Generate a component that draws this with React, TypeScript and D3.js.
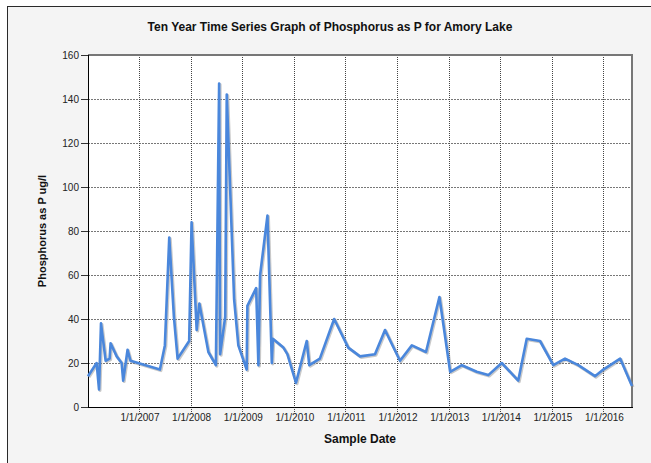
import { useEffect, useRef } from 'react'
import * as d3 from 'd3'

// Sample dates and phosphorus readings (ug/l)
const sampleDates = [
  '2006-01-05', '2006-03-07', '2006-03-24', '2006-04-07', '2006-05-10', '2006-06-07',
  '2006-06-14', '2006-07-27', '2006-08-31', '2006-09-11', '2006-10-12', '2006-11-02',
  '2007-05-29', '2007-07-03', '2007-08-03', '2007-09-05', '2007-10-01', '2007-12-22',
  '2008-01-08', '2008-02-13', '2008-03-03', '2008-05-06', '2008-06-28', '2008-07-21',
  '2008-07-28', '2008-09-02', '2008-09-13', '2008-11-04', '2008-12-04', '2009-02-01',
  '2009-02-06', '2009-04-09', '2009-04-25', '2009-05-07', '2009-06-28', '2009-07-29',
  '2009-08-05', '2009-10-19', '2009-11-16', '2010-01-16', '2010-04-02', '2010-04-20',
  '2010-07-04', '2010-10-13', '2011-01-21', '2011-04-14', '2011-07-29', '2011-10-08',
  '2012-01-22', '2012-04-15', '2012-07-24', '2012-10-27', '2013-01-11', '2013-04-04',
  '2013-07-18', '2013-10-08', '2014-01-11', '2014-05-08', '2014-07-07', '2014-10-09',
  '2015-01-11', '2015-04-04', '2015-07-07', '2015-11-02', '2015-12-31', '2016-04-28',
  '2016-07-21',
]
const phosphorus = [
  14, 20, 8, 38, 21, 22,
  29, 23, 20, 12, 26, 21,
  17, 28, 77, 41, 22, 30,
  84, 35, 47, 25, 19, 147,
  24, 41, 142, 49, 28, 17,
  46, 54, 19, 60, 87, 20,
  31, 27, 24, 11, 30, 19,
  22, 40, 27, 23, 24, 35,
  21, 28, 25, 50, 16, 19,
  16, 14.5, 20, 12, 31, 30,
  19, 22, 19, 14, 17, 22,
  9.5,
]
const yTicks = [0, 20, 40, 60, 80, 100, 120, 140, 160]
const xTickLabels = [
  '1/1/2007', '1/1/2008', '1/1/2009', '1/1/2010', '1/1/2011',
  '1/1/2012', '1/1/2013', '1/1/2014', '1/1/2015', '1/1/2016',
]

const width = 651
const height = 463
const plot = { left: 88, right: 632, top: 55, bottom: 407 }

export default function App() {
  const svgRef = useRef<SVGSVGElement>(null)

  useEffect(() => {
    if (!svgRef.current) return
    const svg = d3.select(svgRef.current)
    svg.selectAll('*').remove()

    const parseDate = d3.timeParse('%Y-%m-%d')
    const parseTick = d3.timeParse('%m/%d/%Y')
    const data = sampleDates.map((d, i) => ({ date: parseDate(d) as Date, value: phosphorus[i] }))
    const tickDates = xTickLabels.map(t => parseTick(t) as Date)

    const x = d3.scaleTime()
      .domain(d3.extent(data, d => d.date) as [Date, Date])
      .range([plot.left, plot.right])
    const y = d3.scaleLinear()
      .domain([0, 160])
      .range([plot.bottom, plot.top])

    // outer panel
    svg.append('rect').attr('width', width).attr('height', height).attr('fill', '#ffffff')
    svg.append('rect')
      .attr('x', 7).attr('y', 6).attr('width', width).attr('height', height)
      .attr('fill', '#f4f4f4')
    svg.append('line').attr('x1', 7).attr('x2', width).attr('y1', 6.5).attr('y2', 6.5)
      .attr('stroke', '#2a2a2a').attr('stroke-width', 1)
    svg.append('line').attr('x1', 7.5).attr('x2', 7.5).attr('y1', 6).attr('y2', height)
      .attr('stroke', '#2a2a2a').attr('stroke-width', 1)

    // plot area
    svg.append('rect')
      .attr('x', plot.left).attr('y', plot.top)
      .attr('width', plot.right - plot.left).attr('height', plot.bottom - plot.top)
      .attr('fill', '#ffffff')

    const grid = svg.append('g')
    grid.selectAll('line.h')
      .data(yTicks.filter(t => t > 0 && t < 160))
      .join('line')
      .attr('x1', plot.left).attr('x2', plot.right)
      .attr('y1', d => Math.round(y(d)) + 0.5).attr('y2', d => Math.round(y(d)) + 0.5)
      .attr('stroke', '#777').attr('stroke-dasharray', '2,1')
    grid.selectAll('line.v')
      .data(tickDates)
      .join('line')
      .attr('x1', d => Math.round(x(d)) + 0.5).attr('x2', d => Math.round(x(d)) + 0.5)
      .attr('y1', plot.top).attr('y2', plot.bottom + 6)
      .attr('stroke', '#444').attr('stroke-dasharray', '1,1')

    // top and right frame
    svg.append('path')
      .attr('d', `M${plot.left},${plot.top} H${plot.right} V${plot.bottom}`)
      .attr('fill', 'none').attr('stroke', '#777').attr('stroke-width', 2)

    // axes
    svg.append('line')
      .attr('x1', plot.left + 0.5).attr('x2', plot.left + 0.5)
      .attr('y1', plot.top).attr('y2', plot.bottom)
      .attr('stroke', '#000')
    svg.append('line')
      .attr('x1', plot.left).attr('x2', plot.right + 1)
      .attr('y1', plot.bottom + 0.5).attr('y2', plot.bottom + 0.5)
      .attr('stroke', '#000')

    const yAxis = svg.append('g')
    yAxis.selectAll('line')
      .data(yTicks)
      .join('line')
      .attr('x1', plot.left - 7).attr('x2', plot.left)
      .attr('y1', d => Math.round(y(d)) + 0.5).attr('y2', d => Math.round(y(d)) + 0.5)
      .attr('stroke', '#333')
    yAxis.selectAll('text')
      .data(yTicks)
      .join('text')
      .attr('x', plot.left - 9)
      .attr('y', d => y(d) + 3.5)
      .attr('text-anchor', 'end')
      .style('font-family', 'Arial, "Liberation Sans", sans-serif')
      .style('font-size', '10px')
      .style('fill', '#222')
      .text(d => d)

    svg.append('g').selectAll('text')
      .data(tickDates)
      .join('text')
      .attr('x', d => x(d) + 1)
      .attr('y', 421)
      .attr('text-anchor', 'middle')
      .style('font-family', 'Arial, "Liberation Sans", sans-serif')
      .style('font-size', '10px')
      .style('fill', '#222')
      .text((_, i) => xTickLabels[i])

    // series line with a soft shadow
    const line = d3.line<{ date: Date, value: number }>()
      .x(d => x(d.date))
      .y(d => y(d.value))
    svg.append('path')
      .datum(data)
      .attr('d', line)
      .attr('transform', 'translate(1,1)')
      .attr('fill', 'none')
      .attr('stroke', '#888')
      .attr('stroke-opacity', 0.45)
      .attr('stroke-width', 3)
      .attr('stroke-linejoin', 'round')
    svg.append('path')
      .datum(data)
      .attr('d', line)
      .attr('fill', 'none')
      .attr('stroke', '#4a87dc')
      .attr('stroke-width', 2.6)
      .attr('stroke-linejoin', 'round')

    // titles
    svg.append('text')
      .attr('x', 330).attr('y', 31)
      .attr('text-anchor', 'middle')
      .style('font-family', 'Arial, "Liberation Sans", sans-serif')
      .style('font-size', '12px')
      .style('font-weight', 'bold')
      .style('fill', '#111')
      .text('Ten Year Time Series Graph of Phosphorus as P for Amory Lake')
    svg.append('text')
      .attr('x', (plot.left + plot.right) / 2).attr('y', 443)
      .attr('text-anchor', 'middle')
      .style('font-family', 'Arial, "Liberation Sans", sans-serif')
      .style('font-size', '12px')
      .style('font-weight', 'bold')
      .style('fill', '#111')
      .text('Sample Date')
    svg.append('text')
      .attr('transform', `translate(46,${(plot.top + plot.bottom) / 2}) rotate(-90)`)
      .attr('text-anchor', 'middle')
      .style('font-family', 'Arial, "Liberation Sans", sans-serif')
      .style('font-size', '11px')
      .style('font-weight', 'bold')
      .style('fill', '#111')
      .text('Phosphorus as P ug/l')
  }, [])

  return (
    <svg
      ref={svgRef}
      width={width}
      height={height}
      style={{ position: 'absolute', left: 0, top: 0 }}
    />
  )
}
